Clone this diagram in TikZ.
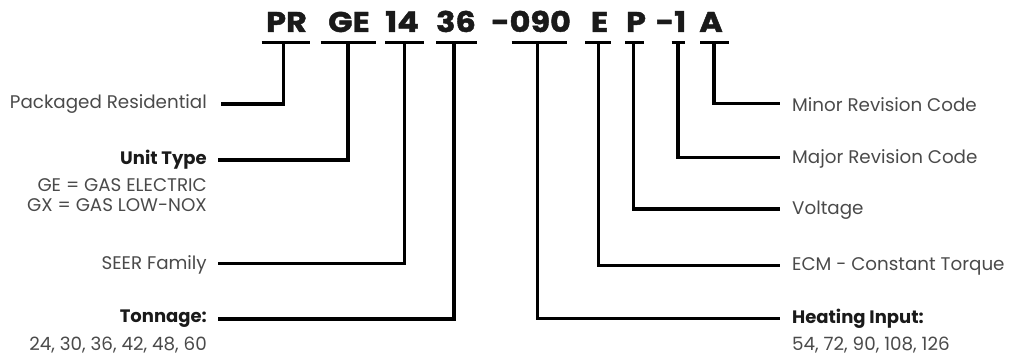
\documentclass[tikz,border=0pt]{standalone}
\usepackage{fontspec}
\setmainfont{Poppins}
\newfontfamily\codefont{Poppins}[FakeBold=1.6, FakeStretch=1.12]
\definecolor{lbl}{HTML}{4A4A4A}
\definecolor{dark}{HTML}{1A1A1A}
\begin{document}
\begin{tikzpicture}[x=1pt,y=-1pt,
  code/.style={font=\codefont\fontsize{28.5}{30}\selectfont\bfseries, text=dark, anchor=base, inner sep=0pt},
  lab/.style={font=\fontsize{18.3}{20}\selectfont, text=lbl, inner sep=0pt},
  blab/.style={font=\fontsize{18}{20}\selectfont\bfseries, text=dark, inner sep=0pt},
  wire/.style={line width=3.4pt, line cap=butt, line join=miter},
  uline/.style={line width=3.6pt}]
\useasboundingbox (0,0) rectangle (1013,361);
% code characters
\node[code] (cPR) at (286.5,32) {PR};
\node[code] (cGE) at (349,32) {GE};
\node[code] (c14) at (402,32) {14};
\node[code] (c36) at (456,32) {36};
\node[code] (c090) at (531,32) {-090};
\node[code] (cE) at (599.5,32) {E};
\node[code] (cP) at (636,32) {P};
\node[code] (c1) at (671,32) {-1};
\node[code] (cA) at (711,32) {A};
% underlines
\foreach \a/\b/\n in {261.5/310/PR, 320.5/376/GE, 385/423.5/14, 436/477/36, 511.5/567/090, 585/610.5/E, 625/643.5/P, 671.5/685/1, 700/728.5/A}{
  \coordinate (ua\n) at (\a,42.7);
  \coordinate (ub\n) at (\b,42.7);
  \draw[uline] (ua\n) -- (ub\n);
}
% stem tops
\coordinate (sPR) at (283.5,42.7);
\coordinate (sGE) at (348,42.7);
\coordinate (s14) at (404.5,42.7);
\coordinate (s36) at (454,42.7);
\coordinate (s090) at (537.5,42.7);
\coordinate (sE) at (598.5,42.7);
\coordinate (sP) at (633.5,42.7);
\coordinate (s1) at (678,42.7);
\coordinate (sA) at (714,42.7);
% left labels
\node[lab, anchor=east] (lPR) at (207,104.5) {Packaged Residential};
\node[blab, anchor=east] (lUT) at (207,159.5) {Unit Type};
\node[lab, anchor=east] (lGE) at (207,185.5) {GE = GAS ELECTRIC};
\node[lab, anchor=east] (lGX) at (207,205) {GX = GAS LOW-NOX};
\node[lab, anchor=east] (lSF) at (207,265) {SEER Family};
\node[blab, anchor=east] (lTN) at (207,319) {Tonnage:};
\node[lab, anchor=east] (lTV) at (207,345) {24, 30, 36, 42, 48, 60};
% right labels
\node[lab, anchor=west] (rMi) at (792,104.5) {Minor Revision Code};
\node[lab, anchor=west] (rMa) at (792,158.5) {Major Revision Code};
\node[lab, anchor=west] (rV) at (792,210.5) {Voltage};
\node[lab, anchor=west] (rE) at (792,266) {ECM - Constant Torque};
\node[blab, anchor=west] (rH) at (792,319) {Heating Input:};
\node[lab, anchor=west] (rHV) at (792,345) {54, 72, 90, 108, 126};
% wire ends
\coordinate (ePR) at (221,104);
\coordinate (eUT) at (218,160);
\coordinate (eSF) at (218,263.5);
\coordinate (eTN) at (218,319);
\coordinate (eMi) at (779.5,103.5);
\coordinate (eMa) at (779.5,157.5);
\coordinate (eV) at (779.5,209);
\coordinate (eE) at (779.5,265.5);
\coordinate (eH) at (779.5,318.5);
% wires
\draw[wire] (sPR) |- (ePR);
\draw[wire] (sGE) |- (eUT);
\draw[wire] (s14) |- (eSF);
\draw[wire] (s36) |- (eTN);
\draw[wire] (sA) |- (eMi);
\draw[wire] (s1) |- (eMa);
\draw[wire] (sP) |- (eV);
\draw[wire] (sE) |- (eE);
\draw[wire] (s090) |- (eH);
\end{tikzpicture}
\end{document}
